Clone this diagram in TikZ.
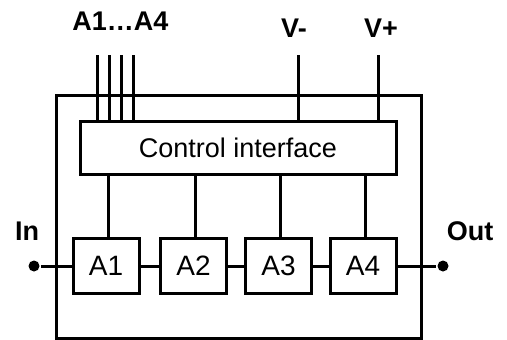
\documentclass[tikz,border=0pt]{standalone}
\usepackage{fontspec}
\setmainfont{Liberation Sans}
\begin{document}
\begin{tikzpicture}[x=1pt,y=-1pt,line width=3pt,
  blk/.style={draw,rectangle,inner sep=0pt,minimum width=66pt,minimum height=55pt,font=\fontsize{28}{28}\selectfont},
  lbl/.style={inner sep=0pt,font=\bfseries\fontsize{27}{27}\selectfont},
  dot/.style={circle,fill,inner sep=0pt,minimum size=11pt}]
\useasboundingbox (0,0) rectangle (507,340);
\node[draw,rectangle,inner sep=0pt,minimum width=365pt,minimum height=243pt] (frame) at (238.5,216.5) {};
\node[draw,rectangle,inner sep=0pt,minimum width=316pt,minimum height=53pt,font=\fontsize{27}{27}\selectfont] (ctrl) at (238,147.5) {Control interface};
\node[blk] (a1) at (106,266) {A1};
\node[blk] (a2) at (193.5,266) {A2};
\node[blk] (a3) at (278.5,266) {A3};
\node[blk] (a4) at (363,266) {A4};
\node[dot] (in) at (34,266) {};
\node[dot] (out) at (443,266) {};
\node[lbl] (lin) at (27,231) {In};
\node[lbl] (lout) at (470,231) {Out};
\node[lbl] (la) at (120.5,21.5) {A1…A4};
\node[lbl] (lvm) at (294,28) {V-};
\node[lbl] (lvp) at (381,28) {V+};
\coordinate (t1) at (97,55);
\coordinate (t2) at (109,55);
\coordinate (t3) at (121.5,55);
\coordinate (t4) at (133.5,55);
\coordinate (tm) at (298,55);
\coordinate (tp) at (378,55);
\foreach \t in {t1,t2,t3,t4,tm,tp} \draw (\t) -- (\t |- ctrl.north);
\draw (in) -- (a1) -- (a2) -- (a3) -- (a4) -- (out);
\foreach \a in {a1,a2,a3,a4} \draw ([xshift=2pt]\a.north) -- ([xshift=2pt]\a.north |- ctrl.south);
\end{tikzpicture}
\end{document}
